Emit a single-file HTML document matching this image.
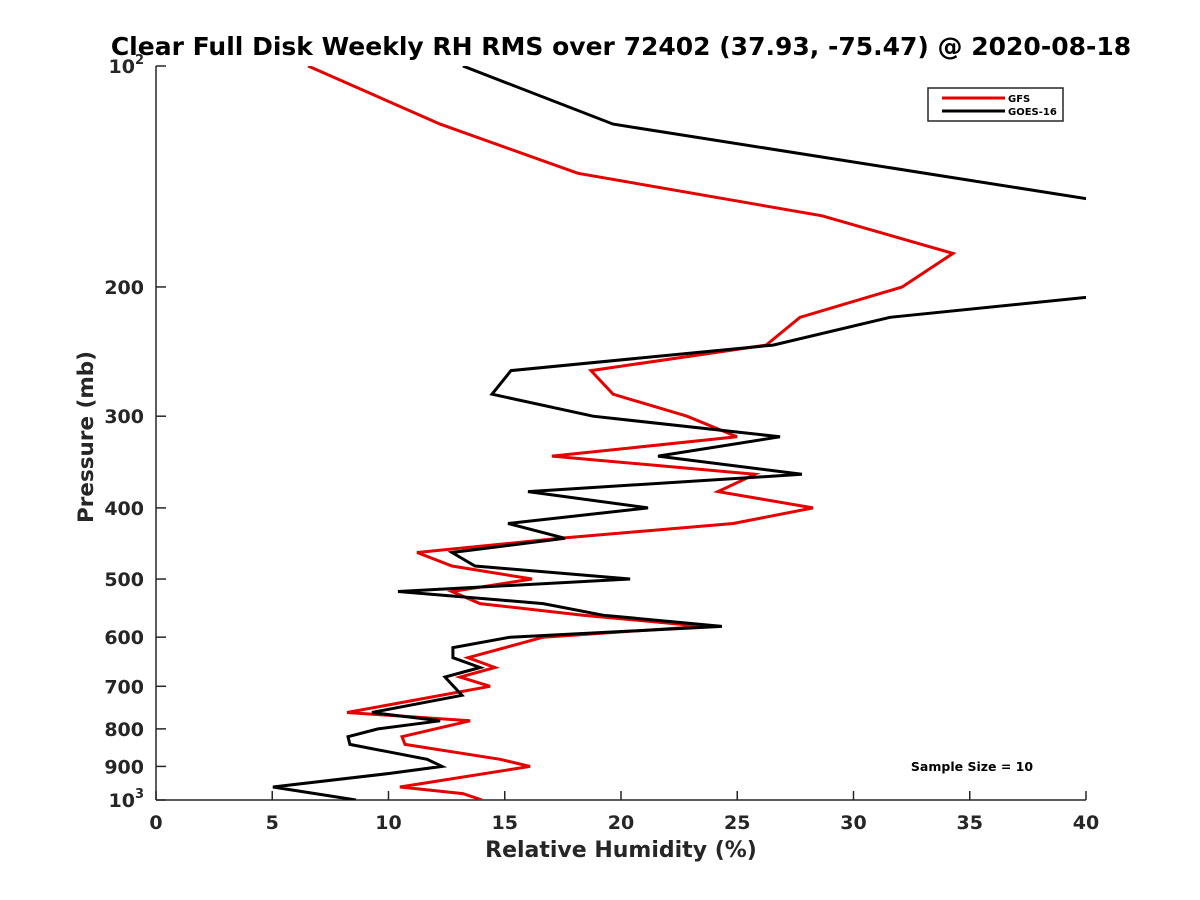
<!DOCTYPE html>
<html><head><meta charset="utf-8"><style>
html,body{margin:0;padding:0;background:#fff;}
svg{display:block;font-family:"DejaVu Sans","Liberation Sans",sans-serif;}
</style></head><body>
<svg id="chart" width="1200" height="900" viewBox="0 0 1200 900" xmlns="http://www.w3.org/2000/svg">
<rect width="1200" height="900" fill="#fff"/>
<text x="621" y="55" text-anchor="middle" font-size="25" font-weight="bold" fill="#000">Clear Full Disk Weekly RH RMS over 72402 (37.93, -75.47) @ 2020-08-18</text>
<defs><clipPath id="clip"><rect x="156" y="66" width="930" height="734"/></clipPath></defs>
<g id="axes"></g>
<g id="series" clip-path="url(#clip)"></g>
<text x="621" y="857" text-anchor="middle" font-size="22" font-weight="bold" fill="#262626">Relative Humidity (%)</text>
<text transform="translate(93,437) rotate(-90)" text-anchor="middle" font-size="21.5" font-weight="bold" fill="#262626">Pressure (mb)</text>
<g>
<rect x="928" y="88" width="135" height="33" fill="#fff" stroke="#262626" stroke-width="1.5"/>
<line x1="942" y1="98" x2="1005" y2="98" stroke="#e60000" stroke-width="3"/>
<text x="1008" y="102" font-size="10" font-weight="bold" fill="#000">GFS</text>
<line x1="942" y1="111" x2="1005" y2="111" stroke="#000" stroke-width="3"/>
<text x="1008" y="115" font-size="10" font-weight="bold" fill="#000">GOES-16</text>
</g>
<text x="972" y="771" text-anchor="middle" font-size="12.5" font-weight="bold" fill="#000">Sample Size = 10</text>
</svg>
<script>
const gfsPressure = [100,120,140,160,180,200,220,240,260,280,300,320,340,360,380,400,420,440,460,480,500,520,540,560,580,600,640,660,680,700,760,780,820,840,880,900,960,980,1000];
const gfsRH = [6.54,12.22,18.15,28.65,34.28,32.09,27.70,26.24,18.71,19.66,22.84,24.99,17.03,25.76,24.17,28.26,24.82,17.38,11.23,12.73,16.17,12.73,13.94,18.37,23.53,16.65,13.42,14.58,13.08,14.37,8.22,13.51,10.58,10.71,14.80,16.09,10.49,13.2,14.02];
const goesPressure = [100,120,160,180,200,220,240,260,280,300,320,340,360,380,400,420,440,460,480,500,520,540,560,580,600,620,640,660,680,720,760,780,800,820,840,880,900,920,960,1000];
const goesRH = [13.20,19.66,44.7,46.0,44.4,31.57,26.54,15.27,14.45,18.80,26.84,21.59,27.78,16.0,21.16,15.14,17.59,12.73,13.72,20.39,10.41,16.65,19.23,24.34,15.23,12.77,12.77,13.94,12.43,13.16,9.29,12.22,9.55,8.26,8.34,11.66,12.30,10.06,5.03,8.6];
const xTicks = [0,5,10,15,20,25,30,35,40];
const yTicks = [100,200,300,400,500,600,700,800,900,1000];
const yTickLabels = ["10^2","200","300","400","500","600","700","800","900","10^3"];

const NS = "http://www.w3.org/2000/svg";
const X0=156, X1=1086, Y0=66, Y1=800;
function xs(v){return X0+(v/40)*(X1-X0);}
function ys(p){return Y0+(Math.log10(p)-2)*(Y1-Y0);}
function mk(tag, attrs, parent){const e=document.createElementNS(NS,tag);for(const k in attrs)e.setAttribute(k,attrs[k]);parent.appendChild(e);return e;}

const axes=document.getElementById('axes');
let l=mk('line',{x1:X0,y1:Y0,x2:X0,y2:Y1,stroke:'#262626','stroke-width':1.5},axes);


l=mk('line',{x1:X0,y1:Y1,x2:X1,y2:Y1,stroke:'#262626','stroke-width':1.5},axes);


xTicks.forEach(v=>{
  const t=mk('line',{x1:xs(v),y1:Y1,x2:xs(v),y2:Y1-9,stroke:'#262626','stroke-width':1.5},axes);
  
  
  const tx=mk('text',{x:xs(v),y:Y1+29,'text-anchor':'middle','font-size':19,'font-weight':'bold',fill:'#262626'},axes);
  tx.textContent=String(v);
  
  
});
yTicks.forEach((p,i)=>{
  const t=mk('line',{x1:X0,y1:ys(p),x2:X0+10,y2:ys(p),stroke:'#262626','stroke-width':1.5},axes);
  
  
  const lab=yTickLabels[i];
  const tx=mk('text',{x:X0-12,y:ys(p)+7,'text-anchor':'end','font-size':19,'font-weight':'bold',fill:'#262626'},axes);
  if(lab.indexOf('^')>=0){
    const parts=lab.split('^');
    const a=document.createElementNS(NS,'tspan');a.textContent=parts[0];tx.appendChild(a);
    const b=document.createElementNS(NS,'tspan');b.textContent=parts[1];b.setAttribute('font-size','13');b.setAttribute('dy','-9');tx.appendChild(b);
  } else tx.textContent=lab;
  
  
});

const series=document.getElementById('series');
function drawLine(ps, vs, color, name){
  const pts=ps.map((p,i)=>xs(vs[i]).toFixed(1)+','+ys(p).toFixed(1)).join(' ');
  const pl=mk('polyline',{points:pts,fill:'none',stroke:color,'stroke-width':3,'stroke-linejoin':'miter'},series);
  
  
}
drawLine(gfsPressure,gfsRH,'#e60000','gfs-line');
drawLine(goesPressure,goesRH,'#000000','goes16-line');
</script>
</body></html>
